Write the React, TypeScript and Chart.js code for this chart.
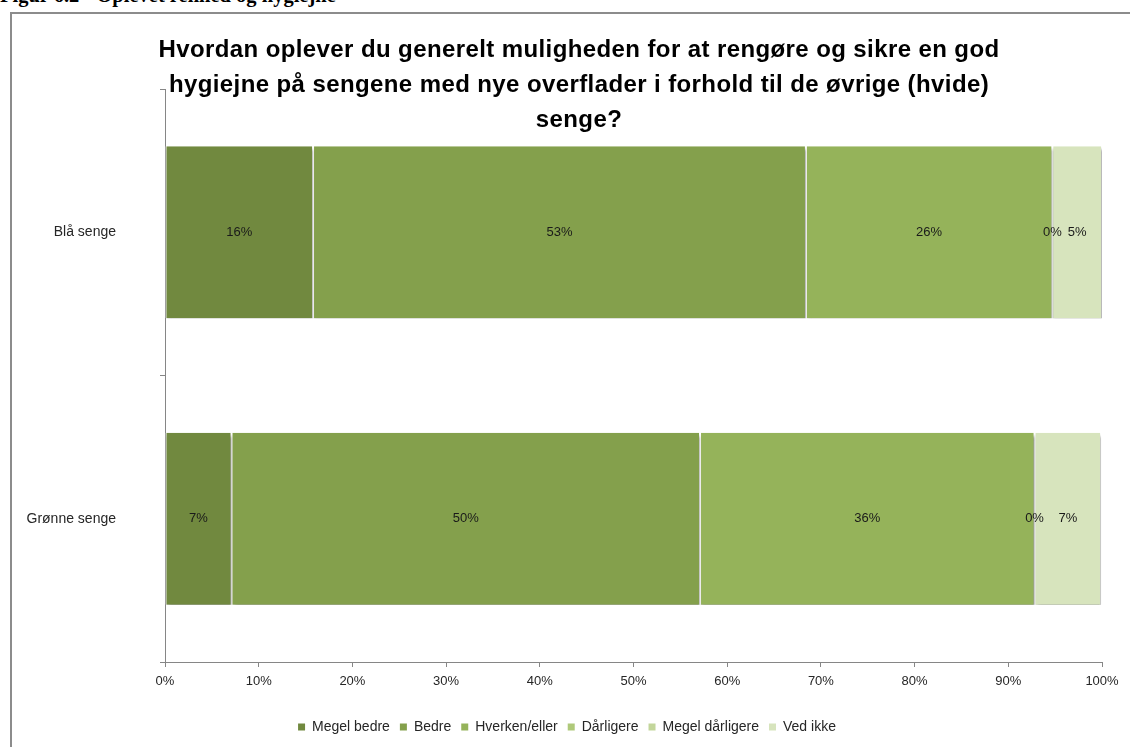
import React, { useEffect, useRef } from "react";
import { Chart, registerables } from "chart.js";

Chart.register(...registerables);

// ---- data ----
const categories = ["Blå senge", "Grønne senge"];
const seriesNames = ["Megel bedre", "Bedre", "Hverken/eller", "Dårligere", "Megel dårligere", "Ved ikke"];
const megetBedre = [15.8, 7.1];
const bedre = [52.6, 50.0];
const hverkenEller = [26.3, 35.7];
const daarligere = [0, 0];
const megetDaarligere = [0, 0];
const vedIkke = [5.3, 7.1];
const seriesColors = ["#71893F", "#84A04C", "#95B35A", "#AFC97A", "#C3D69B", "#D7E4BD"];
const xMin = 0;
const xMax = 100;
const xStep = 10;
const titleLines = [
  "Hvordan oplever du generelt muligheden for at rengøre og sikre en god",
  "hygiejne på sengene med nye overflader i forhold til de øvrige (hvide)",
  "senge?",
];
const pageHeading = "Figur 6.2 - Oplevet renhed og hygiejne";

const FONT = '"Liberation Sans", Arial, sans-serif';
const TEXT = "#262626";
const AXIS = "#868686";

const shadowPlugin = {
  id: "barShadow",
  beforeDatasetDraw(chart: any) {
    const ctx = chart.ctx;
    ctx.save();
    ctx.shadowColor = "rgba(0,0,0,0.45)";
    ctx.shadowOffsetX = 1;
    ctx.shadowOffsetY = 3;
    ctx.shadowBlur = 3;
  },
  afterDatasetDraw(chart: any) {
    chart.ctx.restore();
  },
};

const legendShiftPlugin = {
  id: "legendShift",
  afterLayout(chart: any) {
    if (chart.legend) {
      chart.legend.left += 10;
      chart.legend.right += 10;
    }
  },
};

const valueLabelPlugin = {
  id: "valueLabels",
  afterDatasetsDraw(chart: any) {
    const ctx = chart.ctx;
    ctx.save();
    ctx.font = `13px ${FONT}`;
    ctx.fillStyle = "#1a1a1a";
    ctx.textAlign = "center";
    ctx.textBaseline = "middle";
    const drawn = new Set<string>();
    chart.data.datasets.forEach((ds: any, i: number) => {
      const meta = chart.getDatasetMeta(i);
      meta.data.forEach((el: any, j: number) => {
        const v = ds.data[j];
        const x = (el.x + el.base) / 2;
        const key = Math.round(x) + ":" + Math.round(el.y);
        if (drawn.has(key)) return;
        drawn.add(key);
        ctx.fillText(Math.round(v) + "%", x, el.y);
      });
    });
    ctx.restore();
  },
};

function BarChart() {
  const ref = useRef<HTMLCanvasElement | null>(null);
  useEffect(() => {
    if (!ref.current) return;
    const seriesData = [megetBedre, bedre, hverkenEller, daarligere, megetDaarligere, vedIkke];
    const chart = new Chart(ref.current, {
      type: "bar",
      data: {
        labels: categories,
        datasets: seriesNames.map((name, i) => ({
          label: name,
          data: seriesData[i],
          backgroundColor: seriesColors[i],
          borderColor: "#ffffff",
          borderWidth: { left: 1, right: 1, top: 0, bottom: 0 },
          borderSkipped: false,
          barPercentage: 0.6,
          categoryPercentage: 1,
        })),
      },
      options: {
        indexAxis: "y",
        responsive: false,
        animation: false,
        layout: { padding: { top: 75, right: 28, bottom: 3, left: 0 } },
        scales: {
          x: {
            stacked: true,
            min: xMin,
            max: xMax,
            ticks: {
              stepSize: xStep,
              callback: (v: any) => v + "%",
              font: { family: FONT, size: 13 },
              color: TEXT,
              padding: 7,
            },
            grid: { drawOnChartArea: false, drawTicks: true, tickLength: 5, color: AXIS },
            border: { display: true, color: AXIS, width: 1 },
            afterFit: (s: any) => {
              s.height = 48;
            },
          },
          y: {
            stacked: true,
            ticks: {
              font: { family: FONT, size: 14 },
              color: TEXT,
              padding: 44,
            },
            grid: { drawOnChartArea: false, drawTicks: true, tickLength: 5, offset: true, color: AXIS },
            border: { display: true, color: AXIS, width: 1 },
            afterFit: (s: any) => {
              s.width = 153;
            },
          },
        },
        plugins: {
          title: { display: false },
          tooltip: { enabled: false },
          legend: {
            position: "bottom",
            labels: {
              boxWidth: 7,
              boxHeight: 7,
              padding: 10,
              color: TEXT,
              font: { family: FONT, size: 14 },
              generateLabels: (c: any) =>
                Chart.defaults.plugins.legend.labels.generateLabels(c).map((l: any) => ({
                  ...l,
                  lineWidth: 0,
                  strokeStyle: "rgba(0,0,0,0)",
                })),
            },
          },
        },
      },
      plugins: [shadowPlugin, legendShiftPlugin, valueLabelPlugin],
    } as any);
    return () => chart.destroy();
  }, []);
  return <canvas ref={ref} width={1118} height={733} style={{ display: "block" }} />;
}

export default function App() {
  return (
    <div
      style={{
        position: "absolute",
        left: 0,
        top: 0,
        width: 1130,
        height: 747,
        overflow: "hidden",
        background: "#ffffff",
      }}
    >
      <div
        style={{
          position: "absolute",
          left: 0,
          top: -15,
          font: `bold 20.5px "Liberation Serif", serif`,
          lineHeight: "20px",
          whiteSpace: "nowrap",
          color: "#000",
        }}
      >
        {pageHeading}
      </div>
      <div
        style={{
          position: "absolute",
          left: 10,
          top: 12,
          width: 1140,
          height: 760,
          borderLeft: "2px solid #8c8c8c",
          borderTop: "2px solid #8c8c8c",
        }}
      />
      <div style={{ position: "absolute", left: 12, top: 14, width: 1118, height: 733 }}>
        <BarChart />
      </div>
      <div
        style={{
          position: "absolute",
          left: 0,
          top: 31,
          width: 1158,
          textAlign: "center",
          font: `bold 24px ${FONT}`,
          letterSpacing: "0.4px",
          lineHeight: "35px",
          color: "#000",
          whiteSpace: "nowrap",
        }}
      >
        {titleLines.map((t, i) => (
          <div key={i}>{t}</div>
        ))}
      </div>
    </div>
  );
}
